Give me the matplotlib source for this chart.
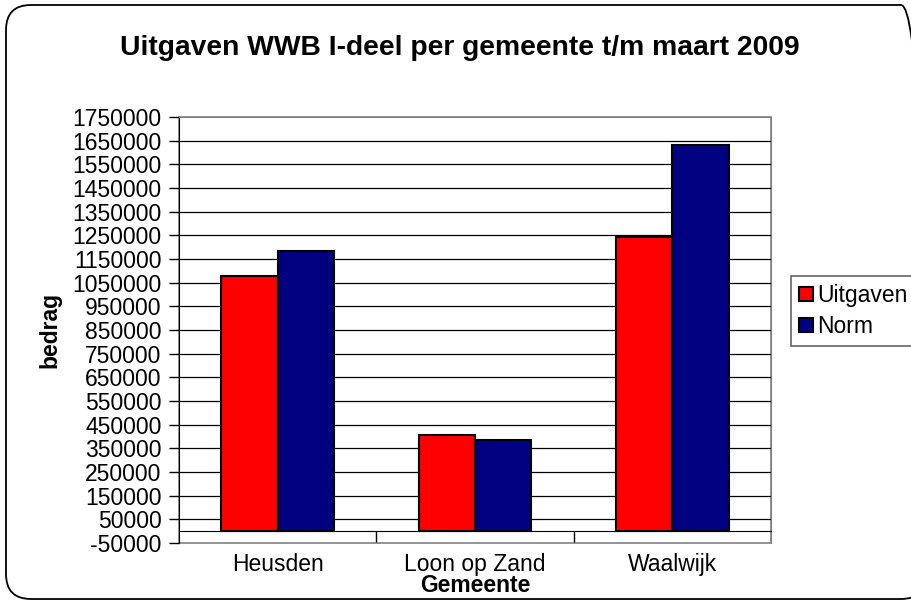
import numpy as np
import matplotlib.pyplot as plt
from matplotlib.patches import FancyBboxPatch, Rectangle

gemeenten = ["Heusden", "Loon op Zand", "Waalwijk"]
uitgaven = [1080000, 405000, 1245000]
norm = [1185000, 387000, 1632000]
yticks = list(range(-50000, 1750001, 100000))

plt.rcParams['font.family'] = ['Liberation Sans', 'DejaVu Sans']
fs = 16.5

fig = plt.figure(figsize=(9.11, 6.01), dpi=100)
ax = fig.add_axes([179 / 911, 58 / 601, 592 / 911, 426 / 601])

x = np.arange(len(gemeenten))
w = 1 / 3.5
ax.bar(x - w / 2, uitgaven, w, color="#FF0000", edgecolor="black", lw=1.5,
       label="Uitgaven", zorder=3)
ax.bar(x + w / 2, norm, w, color="#000080", edgecolor="black", lw=1.5,
       label="Norm", zorder=3)

ax.set_xlim(-0.5, 2.5)
ax.set_ylim(-50000, 1750000)
ax.set_yticks(yticks, [str(v) for v in yticks])
ax.tick_params(axis="y", length=7, width=1, direction="out", pad=5.5,
               labelsize=fs)
for v in yticks[1:-1]:
    ax.axhline(v, color="black", lw=0.9, zorder=1)

ax.set_xticks(x, gemeenten)
ax.set_xticks([0.5, 1.5], minor=True)
ax.tick_params(axis="x", which="major", length=0, pad=16, labelsize=fs)
ax.tick_params(axis="x", which="minor", length=8, width=1, direction="out")

ax.spines["bottom"].set_position(("data", 0))
ax.spines["bottom"].set_zorder(4)
ax.spines["top"].set_color("#808080")
ax.spines["right"].set_color("#808080")
ax.spines["left"].set_color("black")
ax.add_patch(Rectangle((0, 0), 1, 1, transform=ax.transAxes, fill=False,
                       ec="#808080", lw=1.2, zorder=0, clip_on=False))

ax.set_xlabel("Gemeente", fontsize=fs, fontweight="bold", labelpad=-2)
ax.set_ylabel("bedrag", fontsize=fs, fontweight="bold", labelpad=8)

fig.text(0.505, 1 - 48 / 601, "Uitgaven WWB I-deel per gemeente t/m maart 2009",
         ha="center", va="center", fontsize=20.3, fontweight="bold")

leg = ax.legend(loc="upper left", bbox_to_anchor=(791 / 911, 1 - 276 / 601),
                bbox_transform=fig.transFigure, fontsize=fs, frameon=True,
                fancybox=False, handlelength=0.6, handleheight=0.6,
                handletextpad=0.2, labelspacing=0.35, borderpad=0.35,
                borderaxespad=0)
leg.get_frame().set_edgecolor("#404040")
leg.get_frame().set_linewidth(1.2)

fig.patches.append(FancyBboxPatch((0.06, 0.02), 9.2, 5.94,
                                  boxstyle="round,pad=0,rounding_size=0.25",
                                  transform=fig.dpi_scale_trans, fill=False,
                                  ec="black", lw=1.3))

fig.savefig("out.png", dpi=100)
